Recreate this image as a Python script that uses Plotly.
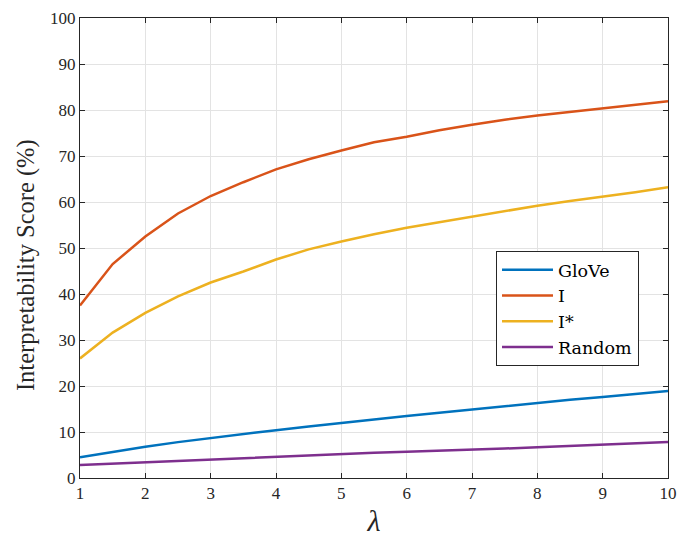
import plotly.graph_objects as go

lam = [1, 1.5, 2, 2.5, 3, 3.5, 4, 4.5, 5, 5.5, 6, 6.5, 7, 7.5, 8, 8.5, 9, 9.5, 10]
glove = [4.5, 5.7, 6.8, 7.8, 8.7, 9.6, 10.4, 11.2, 12.0, 12.8, 13.5, 14.2, 14.9, 15.7, 16.4, 17.0, 17.6, 18.2, 18.9]
i_vals = [37.5, 46.5, 52.5, 57.5, 61.3, 64.3, 67.1, 69.3, 71.2, 73.0, 74.2, 75.6, 76.8, 77.9, 78.8, 79.6, 80.3, 81.2, 81.9]
istar = [26.0, 31.6, 35.9, 39.5, 42.5, 44.9, 47.5, 49.7, 51.4, 53.0, 54.4, 55.6, 56.9, 58.1, 59.2, 60.2, 61.1, 62.1, 63.2]
rand = [2.8, 3.1, 3.5, 3.8, 4.1, 4.4, 4.7, 4.9, 5.2, 5.5, 5.7, 5.9, 6.2, 6.4, 6.7, 7.0, 7.2, 7.5, 7.8]

names = ["GloVe", "I", "I*", "Random"]
series = [glove, i_vals, istar, rand]
colors = ["#0072BD", "#D95319", "#EDB120", "#7E2F8E"]

fig = go.Figure()
for n, s, c in zip(names, series, colors):
    fig.add_trace(go.Scatter(x=lam, y=s, mode="lines", name=n,
                             line=dict(color=c, width=2.5)))

font_family = "Liberation Serif, DejaVu Serif, serif"
axis_common = dict(
    showgrid=True, gridcolor="#e3e3e3", gridwidth=1,
    showline=True, linecolor="#262626", linewidth=1, mirror="ticks",
    ticks="inside", ticklen=5, tickcolor="#262626",
    tickfont=dict(family=font_family, size=17, color="#262626"),
    zeroline=False, automargin=False,
)
fig.update_xaxes(range=[1, 10], tickvals=list(range(1, 11)),
                 title=dict(text="<i>λ</i>", font=dict(family=font_family, size=30, color="#262626"), standoff=10),
                 **axis_common)
fig.update_yaxes(range=[0, 100], tickvals=list(range(0, 101, 10)), **axis_common)

fig.add_annotation(text="Interpretability Score (%)", textangle=-90,
                   xref="paper", yref="paper", x=-0.0918, y=0.463,
                   xanchor="center", yanchor="middle", showarrow=False,
                   font=dict(family=font_family, size=24.5, color="#262626"))

fig.update_layout(
    width=686, height=537,
    margin=dict(l=80, r=18, t=18, b=59),
    plot_bgcolor="white", paper_bgcolor="white",
    legend=dict(x=0.7075, y=0.4935, xanchor="left", yanchor="top",
                bgcolor="white", bordercolor="#262626", borderwidth=1,
                font=dict(family="DejaVu Serif, serif", size=17.5, color="#000000"),
                tracegroupgap=0, itemwidth=51),
    showlegend=True,
)

fig.write_html("out.html", config={"displayModeBar": False},
               post_script="document.body.style.margin='0';document.body.style.overflow='hidden';")
